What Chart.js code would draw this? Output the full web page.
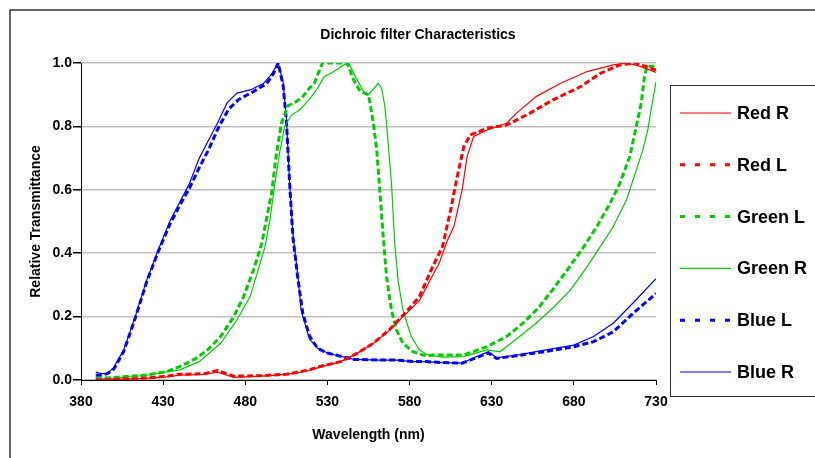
<!DOCTYPE html>
<html>
<head>
<meta charset="utf-8">
<style>
  html, body { margin: 0; padding: 0; background: #fff; }
  #chart { display: block; }
</style>
<script src="https://cdn.jsdelivr.net/npm/chart.js@4.4.1/dist/chart.umd.min.js"></script>
</head>
<body>
<canvas id="chart" width="815" height="458"></canvas>
<script>
// values (wavelength nm / relative transmittance)
var redRX = [389, 400, 420, 432, 440, 455, 463, 473, 490, 505, 513, 519, 525, 538, 548, 558, 568, 578, 586, 592, 598, 603, 607, 612, 615, 619, 627, 639, 645, 657, 672, 688, 704, 712, 720, 730];
var redRY = [0.0, 0.002, 0.005, 0.01, 0.015, 0.018, 0.025, 0.008, 0.012, 0.018, 0.024, 0.03, 0.04, 0.058, 0.084, 0.116, 0.158, 0.21, 0.25, 0.31, 0.368, 0.44, 0.484, 0.60, 0.704, 0.768, 0.788, 0.81, 0.841, 0.894, 0.936, 0.973, 0.994, 1.0, 0.99, 0.97];

var redLX = [389, 400, 420, 432, 440, 455, 463, 473, 490, 505, 513, 519, 525, 538, 548, 558, 568, 578, 586, 594, 600, 605, 609, 613, 617, 627, 639, 653, 667, 684, 696, 708, 718, 730];
var redLY = [0.0, 0.002, 0.006, 0.012, 0.018, 0.02, 0.03, 0.012, 0.014, 0.018, 0.026, 0.032, 0.042, 0.058, 0.084, 0.116, 0.16, 0.215, 0.263, 0.357, 0.42, 0.536, 0.641, 0.736, 0.773, 0.794, 0.804, 0.841, 0.883, 0.925, 0.967, 0.994, 1.0, 0.978];

var greenLX = [389, 400, 410, 420, 432, 440, 450, 457, 465, 473, 479, 485, 490, 496, 499, 502, 506, 511, 515, 519, 522, 527, 534, 542, 546, 550, 555, 558, 560, 562, 564, 566, 569, 572, 576, 582, 590, 595, 613, 627, 639, 649, 659, 667, 676, 686, 694, 702, 708, 714, 718, 721, 723, 724.5, 730];
var greenLY = [0.005, 0.008, 0.012, 0.016, 0.026, 0.042, 0.068, 0.095, 0.137, 0.20, 0.263, 0.347, 0.43, 0.59, 0.715, 0.81, 0.865, 0.878, 0.894, 0.92, 0.936, 1.0, 1.0, 1.0, 0.946, 0.91, 0.90, 0.81, 0.726, 0.59, 0.45, 0.326, 0.22, 0.158, 0.116, 0.089, 0.076, 0.079, 0.079, 0.105, 0.137, 0.179, 0.231, 0.284, 0.347, 0.42, 0.484, 0.557, 0.62, 0.704, 0.80, 0.873, 0.957, 0.99, 0.99];

var greenRX = [389, 400, 420, 440, 452, 465, 475, 483, 489, 492, 495, 498, 501, 504, 508, 513, 519, 524, 528, 534, 540, 543, 547, 552, 555, 561, 563, 565, 567, 569, 571, 573, 576, 581, 586, 591, 600, 613, 627, 635, 647, 657, 668, 678, 688, 696, 704, 712, 718, 722, 725, 727, 730];
var greenRY = [0.003, 0.006, 0.015, 0.032, 0.058, 0.116, 0.19, 0.263, 0.368, 0.42, 0.505, 0.62, 0.72, 0.80, 0.835, 0.852, 0.885, 0.92, 0.957, 0.973, 0.994, 1.0, 0.957, 0.91, 0.90, 0.936, 0.92, 0.862, 0.746, 0.62, 0.43, 0.315, 0.22, 0.137, 0.095, 0.079, 0.072, 0.074, 0.095, 0.089, 0.137, 0.179, 0.231, 0.284, 0.357, 0.42, 0.484, 0.568, 0.662, 0.726, 0.789, 0.852, 0.94];

var blueLX = [389, 392, 396, 400, 406, 413, 420, 427, 434, 440, 446, 452, 458, 464, 470, 476, 485, 493, 497, 500, 503, 505, 507, 509, 512, 515, 519, 524, 530, 538, 546, 562, 572, 582, 590, 600, 612, 618, 628, 633, 647, 663, 680, 692, 704, 716, 730];
var blueLY = [0.015, 0.015, 0.02, 0.035, 0.09, 0.195, 0.31, 0.405, 0.49, 0.55, 0.605, 0.67, 0.73, 0.80, 0.855, 0.885, 0.91, 0.935, 0.965, 1.0, 0.93, 0.82, 0.62, 0.45, 0.32, 0.21, 0.14, 0.10, 0.085, 0.075, 0.065, 0.063, 0.063, 0.058, 0.058, 0.055, 0.053, 0.065, 0.085, 0.068, 0.078, 0.09, 0.105, 0.121, 0.152, 0.21, 0.273];

var blueRX = [389, 392, 396, 400, 406, 413, 420, 427, 434, 440, 446, 452, 457, 463, 469, 475, 483, 491, 496, 500, 503, 505, 507, 509, 512, 514, 519, 524, 530, 538, 546, 562, 572, 582, 590, 600, 612, 618, 628, 633, 647, 663, 680, 692, 704, 716, 730];
var blueRY = [0.025, 0.02, 0.02, 0.04, 0.095, 0.20, 0.315, 0.41, 0.50, 0.56, 0.62, 0.70, 0.75, 0.81, 0.875, 0.905, 0.915, 0.935, 0.965, 1.0, 0.94, 0.83, 0.62, 0.46, 0.33, 0.22, 0.13, 0.10, 0.085, 0.075, 0.065, 0.063, 0.063, 0.058, 0.058, 0.055, 0.053, 0.068, 0.089, 0.07, 0.08, 0.095, 0.11, 0.137, 0.179, 0.243, 0.32];

var xTicks = [380, 430, 480, 530, 580, 630, 680, 730];
var yTicks = [0.0, 0.2, 0.4, 0.6, 0.8, 1.0];

var RED = '#ff0000', GREEN = '#00cc00', BLUE = '#0000ff';

function pts(xs, ys) {
    return xs.map(function (x, i) { return { x: x, y: ys[i] }; });
}

function solid(label, color, xs, ys) {
    return { label: label, data: pts(xs, ys), borderColor: color, borderWidth: 1.2,
             pointRadius: 0, tension: 0, fill: false };
}
function dashed(label, color, xs, ys) {
    return { label: label, data: pts(xs, ys), borderColor: color, borderWidth: 3,
             borderDash: [6, 3], pointRadius: 0, tension: 0, fill: false };
}

// frame, title and the boxed legend on the right
var decor = {
    id: 'decor',
    beforeDraw: function (chart) {
        var c = chart.ctx;
        c.save();
        c.fillStyle = '#fff';
        c.fillRect(0, 0, chart.width, chart.height);
        c.strokeStyle = '#333';
        c.lineWidth = 1.5;
        c.strokeRect(10, 10, 830, 470);
        c.fillStyle = '#000';
        c.font = 'bold 14px "Liberation Sans", Arial, sans-serif';
        c.textAlign = 'center';
        c.textBaseline = 'middle';
        c.fillText('Dichroic filter Characteristics', 418, 35);
        c.restore();
    },
    afterDraw: function (chart) {
        var c = chart.ctx;
        c.save();
        c.strokeStyle = '#333';
        c.lineWidth = 1;
        c.strokeRect(670.5, 85.5, 200, 311);
        c.font = 'bold 18px "Liberation Sans", Arial, sans-serif';
        c.textAlign = 'left';
        c.textBaseline = 'middle';
        chart.data.datasets.forEach(function (ds, k) {
            var y = 113 + k * 51.8;
            c.beginPath();
            c.strokeStyle = ds.borderColor;
            if (ds.borderDash) {
                c.lineWidth = 3;
                c.setLineDash([5, 10]);
            } else {
                c.lineWidth = 1.2;
                c.setLineDash([]);
            }
            c.moveTo(680, y);
            c.lineTo(731, y);
            c.stroke();
            c.setLineDash([]);
            c.fillStyle = '#000';
            c.fillText(ds.label, 737, y + 1);
        });
        c.restore();
    }
};

Chart.defaults.font.family = '"Liberation Sans", Arial, sans-serif';
Chart.defaults.color = '#000';

new Chart(document.getElementById('chart').getContext('2d'), {
    type: 'line',
    data: {
        datasets: [
            solid('Red R', RED, redRX, redRY),
            dashed('Red L', RED, redLX, redLY),
            dashed('Green L', GREEN, greenLX, greenLY),
            solid('Green R', GREEN, greenRX, greenRY),
            dashed('Blue L', BLUE, blueLX, blueLY),
            solid('Blue R', BLUE, blueRX, blueRY)
        ]
    },
    options: {
        responsive: false,
        animation: false,
        layout: { padding: { left: 0, top: 63, right: 159, bottom: 0 } },
        plugins: {
            legend: { display: false },
            tooltip: { enabled: false }
        },
        scales: {
            x: {
                type: 'linear',
                min: 380,
                max: 730,
                afterBuildTicks: function (s) { s.ticks = xTicks.map(function (v) { return { value: v }; }); },
                ticks: { font: { size: 14, weight: 'bold' }, padding: 9, maxRotation: 0 },
                grid: { drawOnChartArea: false, tickLength: 5, tickColor: '#000' },
                border: { color: '#000', width: 1 },
                title: { display: true, text: 'Wavelength (nm)', font: { size: 14, weight: 'bold' },
                         padding: { top: 0, bottom: 14 } },
                afterFit: function (s) { s.height = 78; }
            },
            y: {
                min: 0,
                max: 1,
                afterBuildTicks: function (s) { s.ticks = yTicks.map(function (v) { return { value: v }; }); },
                ticks: { font: { size: 14, weight: 'bold' }, padding: 1,
                         callback: function (v) { return Number(v).toFixed(1); } },
                grid: { color: '#c0c0c0', lineWidth: 1.5, tickLength: 8, tickColor: '#000' },
                border: { color: '#000', width: 1 },
                title: { display: true, text: 'Relative Transmittance', font: { size: 14, weight: 'bold' },
                         padding: { top: 28, bottom: 0 } },
                afterFit: function (s) { s.width = 81; }
            }
        }
    },
    plugins: [decor]
});
</script>
</body>
</html>
